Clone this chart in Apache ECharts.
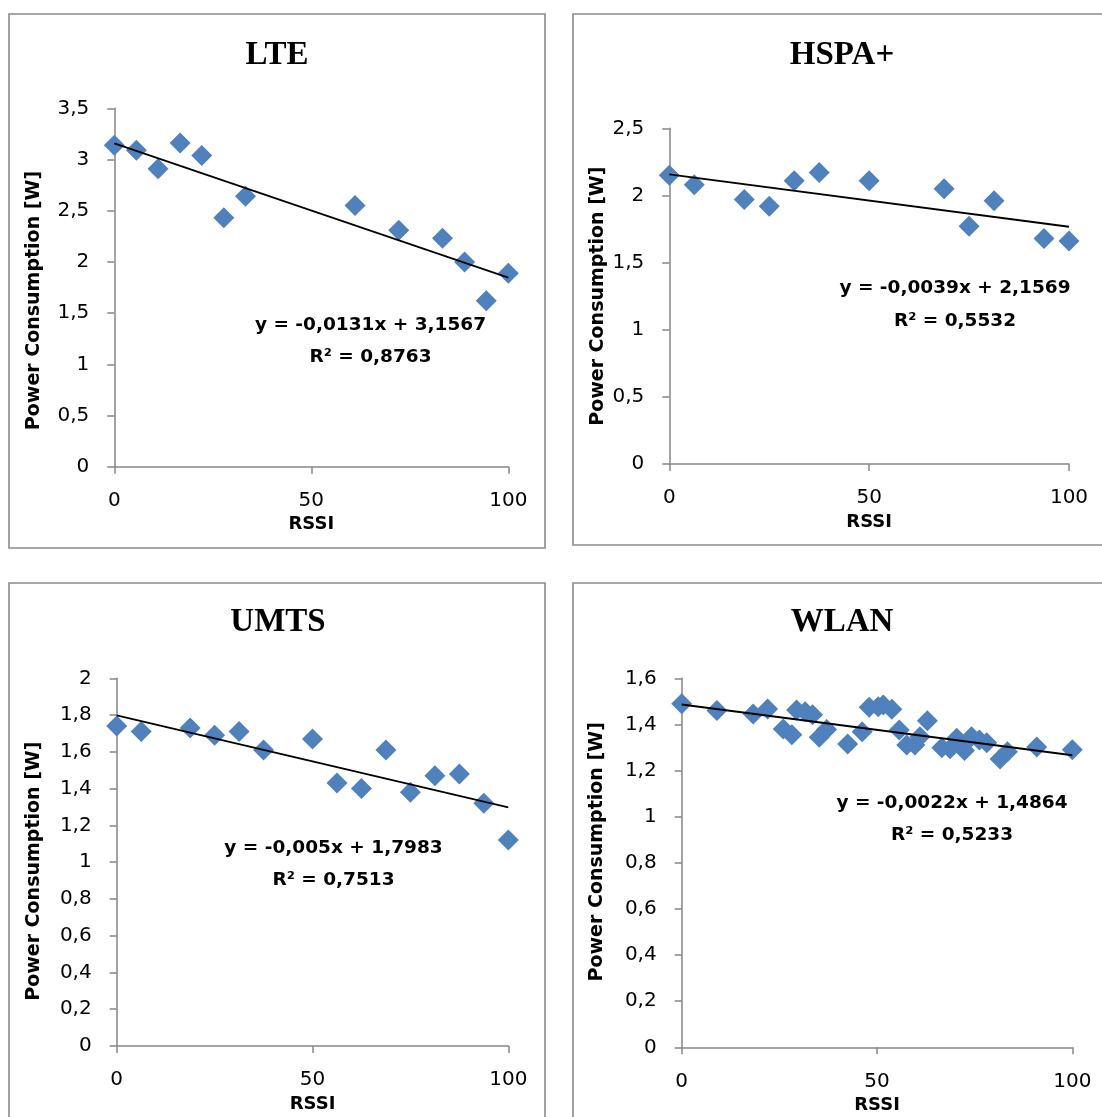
<!DOCTYPE html>
<html><head><meta charset="utf-8">
<script src="https://cdn.jsdelivr.net/npm/echarts@6/dist/echarts.min.js"></script>
<style>html,body{margin:0;padding:0;background:#fff}#c{width:1102px;height:1117px}</style>
</head><body><div id="c"></div>
<script>
// ---- data ----
const titles = ['LTE', 'HSPA+', 'UMTS', 'WLAN'];
const xName = 'RSSI';
const yName = 'Power Consumption [W]';

const lteX = [0, 5.6, 11.1, 16.7, 22.2, 27.8, 33.3, 61.1, 72.2, 83.3, 88.9, 94.4, 100];
const lteY = [3.14, 3.09, 2.91, 3.16, 3.04, 2.43, 2.64, 2.55, 2.31, 2.23, 2.00, 1.62, 1.89];

const hspaX = [0, 6.25, 18.75, 25, 31.25, 37.5, 50, 68.75, 75, 81.25, 93.75, 100];
const hspaY = [2.15, 2.08, 1.97, 1.92, 2.11, 2.17, 2.11, 2.05, 1.77, 1.96, 1.68, 1.66];

const umtsX = [0, 6.25, 18.75, 25, 31.25, 37.5, 50, 56.25, 62.5, 68.75, 75, 81.25, 87.5, 93.75, 100];
const umtsY = [1.74, 1.71, 1.73, 1.69, 1.71, 1.61, 1.67, 1.43, 1.40, 1.61, 1.38, 1.47, 1.48, 1.32, 1.12];

const wlanX = [0, 9.0, 18.3, 22.0, 26.0, 28.2, 29.4, 31.6, 33.5, 35.2, 37.1, 42.5, 46.2, 48.0, 50.3, 51.6, 53.8,
  55.7, 57.6, 59.7, 61.0, 62.9, 66.6, 68.7, 70.4, 72.4, 74.2, 76.2, 78.1, 81.5, 83.4, 90.9, 100];
const wlanY = [1.49, 1.46, 1.445, 1.467, 1.38, 1.355, 1.463, 1.455, 1.442, 1.344, 1.378, 1.315, 1.368, 1.474, 1.477, 1.484, 1.466,
  1.376, 1.311, 1.311, 1.347, 1.416, 1.299, 1.295, 1.340, 1.287, 1.347, 1.333, 1.321, 1.25, 1.282, 1.302, 1.29];

// trendline equations as printed on the chart
const slopes = [-0.0131, -0.0039, -0.005, -0.0022];
const intercepts = [3.1567, 2.1569, 1.7983, 1.4864];
const rSquared = [0.8763, 0.5532, 0.7513, 0.5233];

const yMaxes = [3.5, 2.5, 2, 1.6];
const ySteps = [0.5, 0.5, 0.2, 0.2];
const xMin = 0, xMax = 100, xStep = 50;

// ---- layout (pixels) ----
const grids = [
  {left: 114.3, top: 108.3, width: 394, height: 358.4},
  {left: 669.3, top: 128.3, width: 399.7, height: 335.7},
  {left: 116.7, top: 678.3, width: 391.6, height: 367.7},
  {left: 681.7, top: 678.3, width: 390.6, height: 369}
];
const boxes = [
  {x: 9, y: 14, width: 536, height: 534},
  {x: 573, y: 14, width: 560, height: 531},
  {x: 9, y: 583, width: 536, height: 560},
  {x: 573, y: 583, width: 560, height: 560}
];
const titlePos = [[277, 55], [842, 55], [278, 622], [842, 622]];
const eqPos = [[370.5, 325, 357], [955, 288, 321], [333.5, 848, 880], [952, 803, 835]];
const yNameGap = [71, 62, 73, 75];
const yNamePad = [[0, 26, 0, 0], [0, 0, 0, 0], [0, 18, 0, 0], [0, 0, 0, 22]];

const xs = [lteX, hspaX, umtsX, wlanX];
const ys = [lteY, hspaY, umtsY, wlanY];

const comma = v => String(v).replace('.', ',');
const tickFmt = v => comma(Math.round(v * 10) / 10);

const AXIS_COLOR = '#868686';
const BLUE = '#4F81BD';

const option = {
  backgroundColor: '#fff',
  animation: false,
  grid: grids.map(g => Object.assign({containLabel: false, outerBoundsMode: 'none'}, g)),
  xAxis: grids.map((g, i) => ({
    type: 'value', gridIndex: i, min: xMin, max: xMax, interval: xStep,
    name: xName, nameLocation: 'middle', nameGap: 49,
    nameTextStyle: {fontFamily: 'DejaVu Sans', fontWeight: 'bold', fontSize: 18, color: '#000'},
    axisLine: {show: true, lineStyle: {color: AXIS_COLOR, width: 1.5}},
    axisTick: {show: true, length: 7, lineStyle: {color: AXIS_COLOR, width: 1.5}},
    axisLabel: {margin: 24, fontFamily: 'DejaVu Sans', fontSize: 20, color: '#000'},
    splitLine: {show: false}
  })),
  yAxis: grids.map((g, i) => ({
    type: 'value', gridIndex: i, min: 0, max: yMaxes[i], interval: ySteps[i],
    name: yName, nameLocation: 'middle', nameGap: yNameGap[i], nameRotate: 90,
    nameTextStyle: {fontFamily: 'DejaVu Sans', fontWeight: 'bold', fontSize: 19, color: '#000', padding: yNamePad[i]},
    axisLine: {show: true, lineStyle: {color: AXIS_COLOR, width: 1.5}},
    axisTick: {show: true, length: 7, lineStyle: {color: AXIS_COLOR, width: 1.5}},
    axisLabel: {margin: 25, fontFamily: 'DejaVu Sans', fontSize: 20, color: '#000', formatter: tickFmt},
    splitLine: {show: false}
  })),
  series: [],
  graphic: []
};

titles.forEach((t, i) => {
  option.series.push({
    name: t, type: 'scatter', xAxisIndex: i, yAxisIndex: i,
    symbol: 'diamond', symbolSize: 21,
    itemStyle: {color: BLUE, opacity: 1},
    data: xs[i].map((x, k) => [x, ys[i][k]]),
    z: 2
  });
  option.series.push({
    name: t + ' trend', type: 'line', xAxisIndex: i, yAxisIndex: i,
    symbol: 'none', silent: true,
    lineStyle: {color: '#000', width: 1.8},
    data: [[xMin, intercepts[i] + slopes[i] * xMin], [xMax, intercepts[i] + slopes[i] * xMax]],
    z: 3
  });
  const b = boxes[i];
  option.graphic.push({
    type: 'rect', silent: true, z: -10,
    shape: {x: b.x, y: b.y, width: b.width, height: b.height},
    style: {fill: 'none', stroke: '#8a8a8a', lineWidth: 1.6}
  });
  option.graphic.push({
    type: 'text', silent: true, x: titlePos[i][0], y: titlePos[i][1],
    style: {text: t, font: 'bold 33px "Liberation Serif", "Times New Roman", serif', fill: '#000',
      align: 'center', verticalAlign: 'middle', textAlign: 'center', textVerticalAlign: 'middle'}
  });
  const eq = 'y = ' + comma(slopes[i]) + 'x + ' + comma(intercepts[i]);
  const r2 = 'R² = ' + comma(rSquared[i]);
  [[eq, eqPos[i][1]], [r2, eqPos[i][2]]].forEach(([txt, yy]) => {
    option.graphic.push({
      type: 'text', silent: true, x: eqPos[i][0], y: yy, z: 10,
      style: {text: txt, font: 'bold 18.5px "DejaVu Sans", sans-serif', fill: '#000',
        align: 'center', verticalAlign: 'middle', textAlign: 'center', textVerticalAlign: 'middle'}
    });
  });
});

const chart = echarts.init(document.getElementById('c'), null, {renderer: 'canvas'});
chart.setOption(option);
</script>
</body></html>
